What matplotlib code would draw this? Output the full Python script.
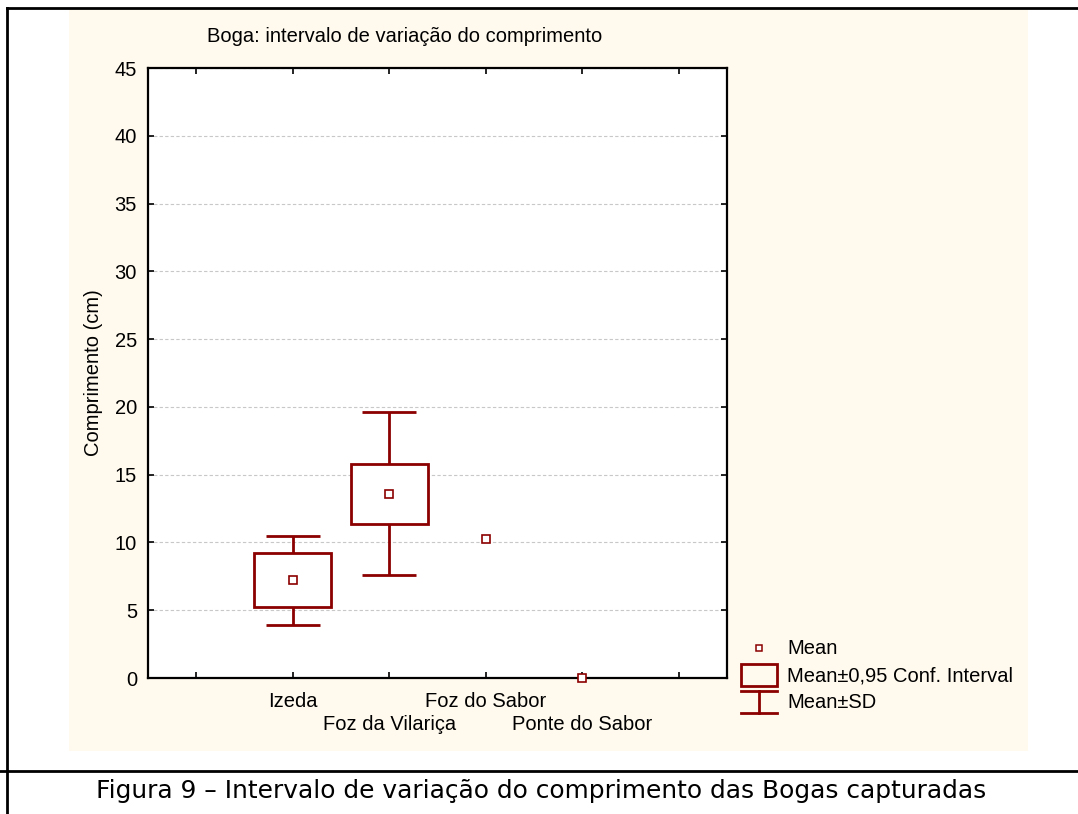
import numpy as np
import matplotlib.pyplot as plt
from matplotlib.patches import Rectangle
from matplotlib.lines import Line2D

# --- data ---
locais = ['Izeda', 'Foz da Vilariça', 'Foz do Sabor', 'Ponte do Sabor']
media = [7.2, 13.6, 10.25, 0.0]
ic_inf = [5.25, 11.35, np.nan, np.nan]
ic_sup = [9.2, 15.8, np.nan, np.nan]
dp_inf = [3.9, 7.6, np.nan, np.nan]
dp_sup = [10.5, 19.6, np.nan, np.nan]

y_ticks = [0, 5, 10, 15, 20, 25, 30, 35, 40, 45]

cor = '#8B0000'
creme = '#FFF9EE'
W, H = 1078, 814
fs = 14.5

plt.rcParams['font.family'] = ['Liberation Sans', 'DejaVu Sans']

fig = plt.figure(figsize=(W / 100, H / 100), dpi=100)
fig.patch.set_facecolor('white')

def fx(px):
    return px / W

def fy(py):
    return 1 - py / H

# fundo creme e molduras
fig.add_artist(Rectangle((fx(69), fy(751)), fx(1028) - fx(69), fy(8) - fy(751),
                         transform=fig.transFigure, facecolor=creme, edgecolor='none', zorder=0))
fig.add_artist(Line2D([fx(7), 1], [fy(8), fy(8)], transform=fig.transFigure, color='black', lw=2))
fig.add_artist(Line2D([fx(7), fx(7)], [fy(8), 0], transform=fig.transFigure, color='black', lw=2))
fig.add_artist(Line2D([0, 1], [fy(771), fy(771)], transform=fig.transFigure, color='black', lw=2))

ax = fig.add_axes([fx(148), fy(678), fx(727) - fx(148), fy(68) - fy(678)])
ax.set_facecolor('white')

x = np.arange(1, len(locais) + 1)
media = np.array(media)
ic_inf = np.array(ic_inf)
ic_sup = np.array(ic_sup)
dp_inf = np.array(dp_inf)
dp_sup = np.array(dp_sup)

# Mean±SD
ax.vlines(x, dp_inf, ic_inf, color=cor, lw=2, zorder=3)
ax.vlines(x, ic_sup, dp_sup, color=cor, lw=2, zorder=3)
ax.hlines(dp_inf, x - 0.28, x + 0.28, color=cor, lw=2, zorder=3)
ax.hlines(dp_sup, x - 0.28, x + 0.28, color=cor, lw=2, zorder=3)

# Mean±0,95 Conf. Interval
ax.bar(x, ic_sup - ic_inf, bottom=ic_inf, width=0.8, facecolor='white',
       edgecolor=cor, linewidth=2, zorder=3)

# Mean
ax.plot(x, media, ls='none', marker='s', ms=5.5, mfc='white', mec=cor, mew=1.2,
        zorder=4, clip_on=False)

ax.set_xlim(-0.5, 5.5)
ax.set_ylim(0, 45)
ax.set_yticks(y_ticks)

# rótulos alternados: linha de cima (major) e linha de baixo (minor)
ax.set_xticks([0, 1, 3, 5])
ax.set_xticklabels(['', locais[0], locais[2], ''], fontsize=fs)
ax.set_xticks([2, 4], minor=True)
ax.set_xticklabels([locais[1], locais[3]], minor=True, fontsize=fs)

ax.tick_params(axis='y', labelsize=fs, pad=8)
ax.tick_params(which='both', direction='in', length=4, width=1.2, top=True, right=True)
ax.tick_params(axis='x', which='major', pad=10)
ax.tick_params(axis='x', which='minor', pad=27)

ax.yaxis.grid(True, linestyle=(0, (3, 2)), color='#c8c8c8', lw=0.8)
ax.set_axisbelow(True)
for s in ax.spines.values():
    s.set_linewidth(1.6)

ax.set_ylabel('Comprimento (cm)', fontsize=fs, labelpad=8)
fig.text(fx(405), fy(36), 'Boga: intervalo de variação do comprimento',
         ha='center', va='center', fontsize=fs)

# legenda
fig.add_artist(Line2D([fx(759)], [fy(648)], transform=fig.transFigure, marker='s', ms=5,
                      mfc='white', mec=cor, mew=1.1, ls='none'))
fig.add_artist(Rectangle((fx(741), fy(686)), fx(777) - fx(741), fy(664) - fy(686),
                         transform=fig.transFigure, facecolor='none', edgecolor=cor, lw=2))
fig.add_artist(Line2D([fx(741), fx(777)], [fy(691), fy(691)], transform=fig.transFigure, color=cor, lw=2))
fig.add_artist(Line2D([fx(741), fx(777)], [fy(713), fy(713)], transform=fig.transFigure, color=cor, lw=2))
fig.add_artist(Line2D([fx(759), fx(759)], [fy(691), fy(713)], transform=fig.transFigure, color=cor, lw=2))
for py, txt in [(648, 'Mean'), (676, 'Mean±0,95 Conf. Interval'), (703, 'Mean±SD')]:
    fig.text(fx(787), fy(py), txt, ha='left', va='center', fontsize=fs)

fig.text(fx(541), fy(791), 'Figura 9 – Intervalo de variação do comprimento das Bogas capturadas',
         ha='center', va='center', fontsize=17.9, family=['DejaVu Sans'])

fig.savefig('out.png', dpi=100)
